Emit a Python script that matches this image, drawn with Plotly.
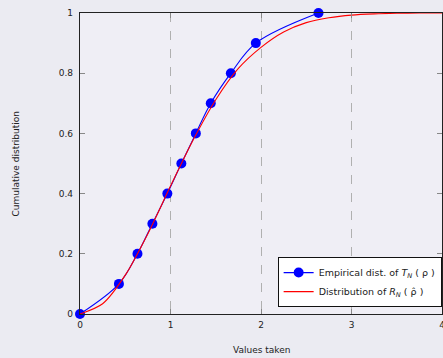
import plotly.graph_objects as go

# Empirical distribution of T_N(rho): sorted sample values and their cumulative levels
emp_x = [0.0, 0.43, 0.635, 0.80, 0.965, 1.12, 1.28, 1.445, 1.667, 1.943, 2.635]
emp_y = [0.0, 0.1, 0.2, 0.3, 0.4, 0.5, 0.6, 0.7, 0.8, 0.9, 1.0]

# Distribution of R_N(rho-hat), sampled along the axis
dist_x = [0.0, 0.25, 0.5, 0.75, 1.0, 1.25, 1.5, 1.75, 2.0, 2.25, 2.5, 2.75, 3.0, 3.25, 3.5, 3.75, 4.0]
dist_y = [0.0, 0.034, 0.129, 0.267, 0.425, 0.578, 0.712, 0.816, 0.886, 0.937, 0.968, 0.984, 0.993, 0.997, 0.999, 1.0, 1.0]

x_ticks = [0, 1, 2, 3, 4]
y_ticks = [0, 0.2, 0.4, 0.6, 0.8, 1]
y_tick_text = ["0", "0.2", "0.4", "0.6", "0.8", "1"]

FONT = "DejaVu Sans"

fig = go.Figure()

fig.add_trace(go.Scatter(
    x=emp_x, y=emp_y,
    mode="lines+markers",
    line=dict(color="#0000ff", width=1.1, shape="spline", smoothing=1.0),
    marker=dict(color="#0000ff", size=10),
    name="Empirical dist. of <i>T</i><sub><i>N</i></sub> ( ρ )",
    cliponaxis=False,
))

fig.add_trace(go.Scatter(
    x=dist_x, y=dist_y,
    mode="lines",
    line=dict(color="#ff0000", width=1.1, shape="spline", smoothing=0.8),
    name="Distribution of <i>R</i><sub><i>N</i></sub> ( ρ̂ )",
))

axis_common = dict(
    showline=True, linecolor="#222222", linewidth=1.2, mirror="ticks",
    ticks="inside", ticklen=5, tickcolor="#888888", tickwidth=1,
    zeroline=False, automargin=False,
    ticklabeloverflow="allow",
    tickfont=dict(family=FONT, size=9, color="#222222"),
)

fig.update_xaxes(
    range=[0, 4], tickvals=x_ticks,
    showgrid=True, gridcolor="#b0b0b0", griddash="dash", gridwidth=1,
    ticklabelstandoff=2,
    **axis_common,
)
fig.update_yaxes(
    range=[0, 1], tickvals=y_ticks, ticktext=y_tick_text,
    showgrid=False,
    ticklabelstandoff=4,
    **axis_common,
)

plot_w = 443 - 80 - 1

fig.add_annotation(
    text="Values taken", x=0.5, xref="paper", y=-0.12, yref="paper",
    yanchor="middle", showarrow=False,
    font=dict(family=FONT, size=9, color="#222222"),
)

# y title centred 15 px from the left edge of the figure
fig.add_annotation(
    text="Cumulative distribution", x=(15 - 80) / plot_w, xref="paper",
    xanchor="center", y=0.5, yref="paper",
    textangle=-90, showarrow=False,
    font=dict(family=FONT, size=9, color="#222222"),
)

fig.update_layout(
    width=443, height=358,
    margin=dict(l=80, r=1, t=13, b=44, autoexpand=False),
    paper_bgcolor="#ebebf2",
    plot_bgcolor="#efeef5",
    font=dict(family=FONT, size=9, color="#222222"),
    showlegend=True,
    legend=dict(
        x=0.999, y=0.023, xanchor="right", yanchor="bottom",
        bgcolor="#ffffff", bordercolor="#111111", borderwidth=1,
        font=dict(family=FONT, size=9.5, color="#222222"),
        itemwidth=30, tracegroupgap=0,
    ),
)

fig.write_html("out.html")
